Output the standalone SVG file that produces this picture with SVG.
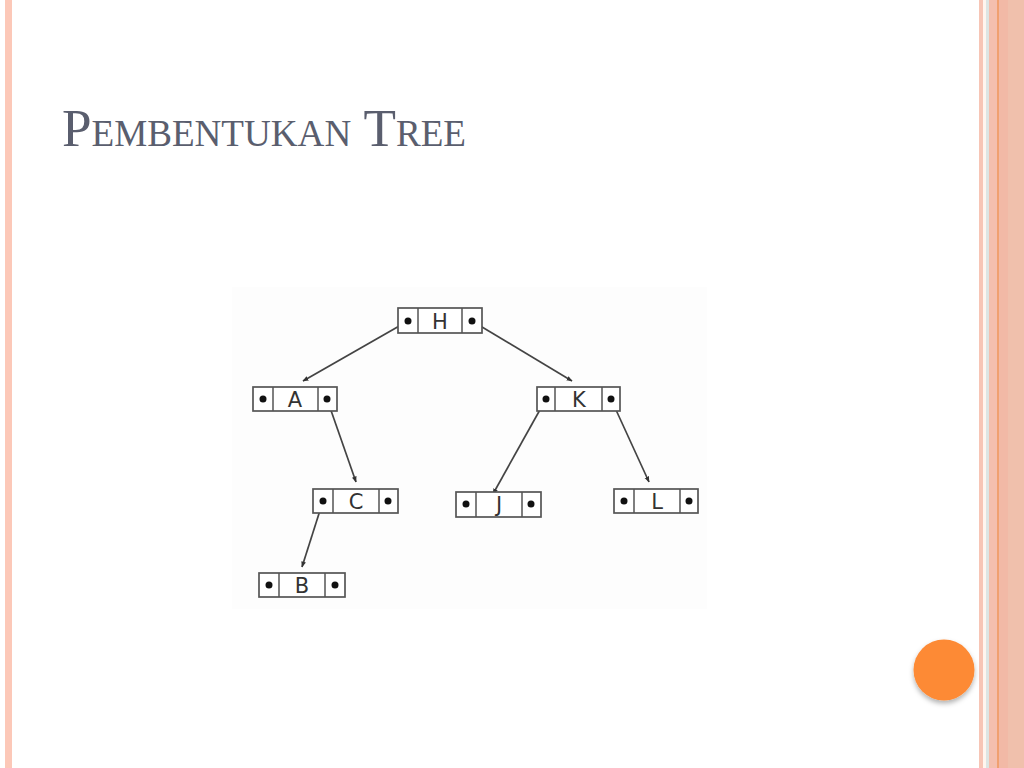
<svg xmlns="http://www.w3.org/2000/svg" width="1024" height="768" viewBox="0 0 1024 768">
<defs>
<style>
.box{fill:#ffffff;stroke:#555555;stroke-width:1.7}
.div{stroke:#555555;stroke-width:1.5}
.dot{fill:#111111}
.lbl{font-family:"DejaVu Sans","Liberation Sans",sans-serif;font-size:21px;fill:#333333;text-anchor:middle}
.edge{stroke:#444444;stroke-width:1.7;fill:none;marker-end:url(#ah)}
</style>
<marker id="ah" viewBox="0 0 10 10" refX="9" refY="5" markerWidth="6" markerHeight="6" orient="auto" markerUnits="userSpaceOnUse">
<path d="M0,1 L10,5 L0,9 z" fill="#333333"/>
</marker>
<filter id="sh" x="-30%" y="-30%" width="160%" height="170%">
<feDropShadow dx="0" dy="3" stdDeviation="2.5" flood-color="#000000" flood-opacity="0.3"/>
</filter>
</defs>
<rect x="0" y="0" width="1024" height="768" fill="#ffffff"/>
<rect x="5" y="0" width="7" height="768" fill="#fcc8b8"/>
<rect x="979" y="0" width="4" height="768" fill="#f7c5b5"/>
<rect x="983" y="0" width="3" height="768" fill="#fff5ee"/>
<rect x="986" y="0" width="3" height="768" fill="#dde5e3"/>
<rect x="989" y="0" width="8" height="768" fill="#f4bfae"/>
<rect x="997" y="0" width="2" height="768" fill="#f0a070"/>
<rect x="999" y="0" width="9" height="768" fill="#f2b9a6"/>
<rect x="1008" y="0" width="16" height="768" fill="#f0c0ac"/>
<text x="62" y="146" font-family="'Liberation Serif',serif" font-size="53" font-variant="small-caps" fill="#5a5e6e" textLength="404" lengthAdjust="spacingAndGlyphs">Pembentukan Tree</text>
<rect x="232" y="287" width="475" height="322" fill="#fdfdfd"/>
<g id="connectors">
<line class="edge" x1="408" y1="321" x2="303" y2="381"/>
<line class="edge" x1="472" y1="321" x2="572" y2="381"/>
<line class="edge" x1="327" y1="399" x2="356" y2="482"/>
<line class="edge" x1="546" y1="399" x2="493" y2="494"/>
<line class="edge" x1="611" y1="399" x2="649" y2="482"/>
<line class="edge" x1="323" y1="501" x2="302" y2="567"/>
</g>
<g id="node-H">
<rect class="box" x="398" y="308" width="84" height="25"/>
<line class="div" x1="418" y1="308" x2="418" y2="333"/><line class="div" x1="462" y1="308" x2="462" y2="333"/>
<circle class="dot" cx="408" cy="321" r="3.5"/><circle class="dot" cx="472" cy="321" r="3.5"/>
<text class="lbl" x="440" y="329">H</text>
</g>
<g id="node-A">
<rect class="box" x="253" y="387" width="84" height="24"/>
<line class="div" x1="273" y1="387" x2="273" y2="411"/><line class="div" x1="318" y1="387" x2="318" y2="411"/>
<circle class="dot" cx="263" cy="399" r="3.5"/><circle class="dot" cx="327" cy="399" r="3.5"/>
<text class="lbl" x="295" y="407">A</text>
</g>
<g id="node-K">
<rect class="box" x="537" y="387" width="83" height="24"/>
<line class="div" x1="555" y1="387" x2="555" y2="411"/><line class="div" x1="602" y1="387" x2="602" y2="411"/>
<circle class="dot" cx="546" cy="399" r="3.5"/><circle class="dot" cx="611" cy="399" r="3.5"/>
<text class="lbl" x="579" y="407">K</text>
</g>
<g id="node-C">
<rect class="box" x="313" y="489" width="85" height="24"/>
<line class="div" x1="333" y1="489" x2="333" y2="513"/><line class="div" x1="379" y1="489" x2="379" y2="513"/>
<circle class="dot" cx="323" cy="501" r="3.5"/><circle class="dot" cx="388" cy="501" r="3.5"/>
<text class="lbl" x="356" y="509">C</text>
</g>
<g id="node-J">
<rect class="box" x="456" y="492" width="85" height="25"/>
<line class="div" x1="476" y1="492" x2="476" y2="517"/><line class="div" x1="522" y1="492" x2="522" y2="517"/>
<circle class="dot" cx="466" cy="504" r="3.5"/><circle class="dot" cx="531" cy="504" r="3.5"/>
<text class="lbl" x="499" y="512">J</text>
</g>
<g id="node-L">
<rect class="box" x="614" y="489" width="84" height="24"/>
<line class="div" x1="634" y1="489" x2="634" y2="513"/><line class="div" x1="680" y1="489" x2="680" y2="513"/>
<circle class="dot" cx="624" cy="501" r="3.5"/><circle class="dot" cx="689" cy="501" r="3.5"/>
<text class="lbl" x="657" y="509">L</text>
</g>
<g id="node-B">
<rect class="box" x="259" y="573" width="86" height="24"/>
<line class="div" x1="279" y1="573" x2="279" y2="597"/><line class="div" x1="325" y1="573" x2="325" y2="597"/>
<circle class="dot" cx="269" cy="585" r="3.5"/><circle class="dot" cx="335" cy="585" r="3.5"/>
<text class="lbl" x="302" y="593">B</text>
</g>
<circle cx="944" cy="670" r="30.5" fill="#fd8a35" filter="url(#sh)"/>
</svg>
